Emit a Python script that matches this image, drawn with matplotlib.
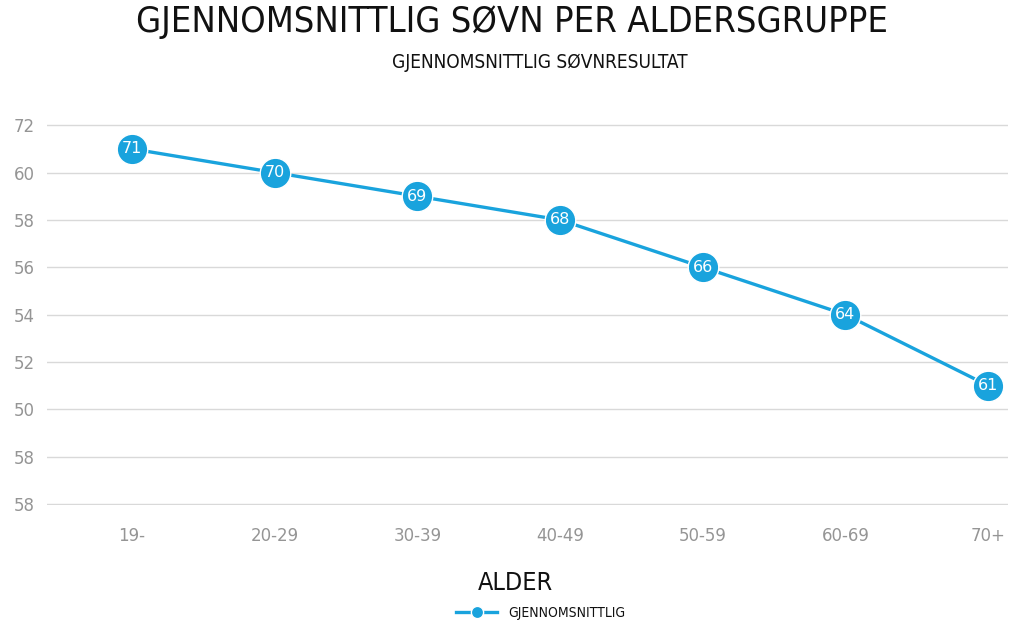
import matplotlib.pyplot as plt

# data
groups = ["19-", "20-29", "30-39", "40-49", "50-59", "60-69", "70+"]
scores = [71, 70, 69, 68, 66, 64, 61]
ytick_vals = [72, 70, 68, 66, 64, 62, 60, 58, 56]
ytick_text = ["72", "60", "58", "56", "54", "52", "50", "58", "58"]

blue = "#19a3dd"

fig = plt.figure(figsize=(10.24, 6.29), dpi=100)
fig.patch.set_facecolor("white")
ax = fig.add_axes([0.0459, 0.1971, 0.9385, 0.6057])

x = list(range(len(groups)))
ax.plot(x, scores, color=blue, lw=2.4, marker="o", ms=22, mfc=blue, mec="white",
        mew=1, label="GJENNOMSNITTLIG", zorder=3)
for xi, v in zip(x, scores):
    ax.text(xi, v, str(v), color="white", ha="center", va="center", fontsize=11.5, zorder=4)

ax.set_xlim(-0.596, 6.14)
ax.set_ylim(55.95, 72.05)
ax.set_yticks(ytick_vals)
ax.set_yticklabels(ytick_text)
ax.set_xticks(x)
ax.set_xticklabels(groups)
ax.grid(axis="y", color="#d9d9d9", lw=1.0)
ax.set_axisbelow(True)
for s in ax.spines.values():
    s.set_visible(False)
ax.tick_params(length=0, colors="#959595", labelsize=12)
ax.tick_params(axis="y", pad=9)
ax.tick_params(axis="x", pad=16)

fig.text(0.5, 0.965, "GJENNOMSNITTLIG SØVN PER ALDERSGRUPPE", ha="center", va="center",
         fontsize=26, fontstretch="condensed", color="#111111")
fig.text(0.527, 0.901, "GJENNOMSNITTLIG SØVNRESULTAT", ha="center", va="center",
         fontsize=13.7, fontstretch="condensed", color="#111111")
fig.text(0.503, 0.073, "ALDER", ha="center", va="center", fontsize=18,
         fontstretch="condensed", color="#111111")

leg = fig.legend(loc="center", bbox_to_anchor=(0.528, 0.025), frameon=False, fontsize=10,
                 handlelength=3, markerscale=0.4)
for t in leg.get_texts():
    t.set_fontstretch("condensed")
    t.set_color("#111111")

fig.savefig("out.png", dpi=100)
